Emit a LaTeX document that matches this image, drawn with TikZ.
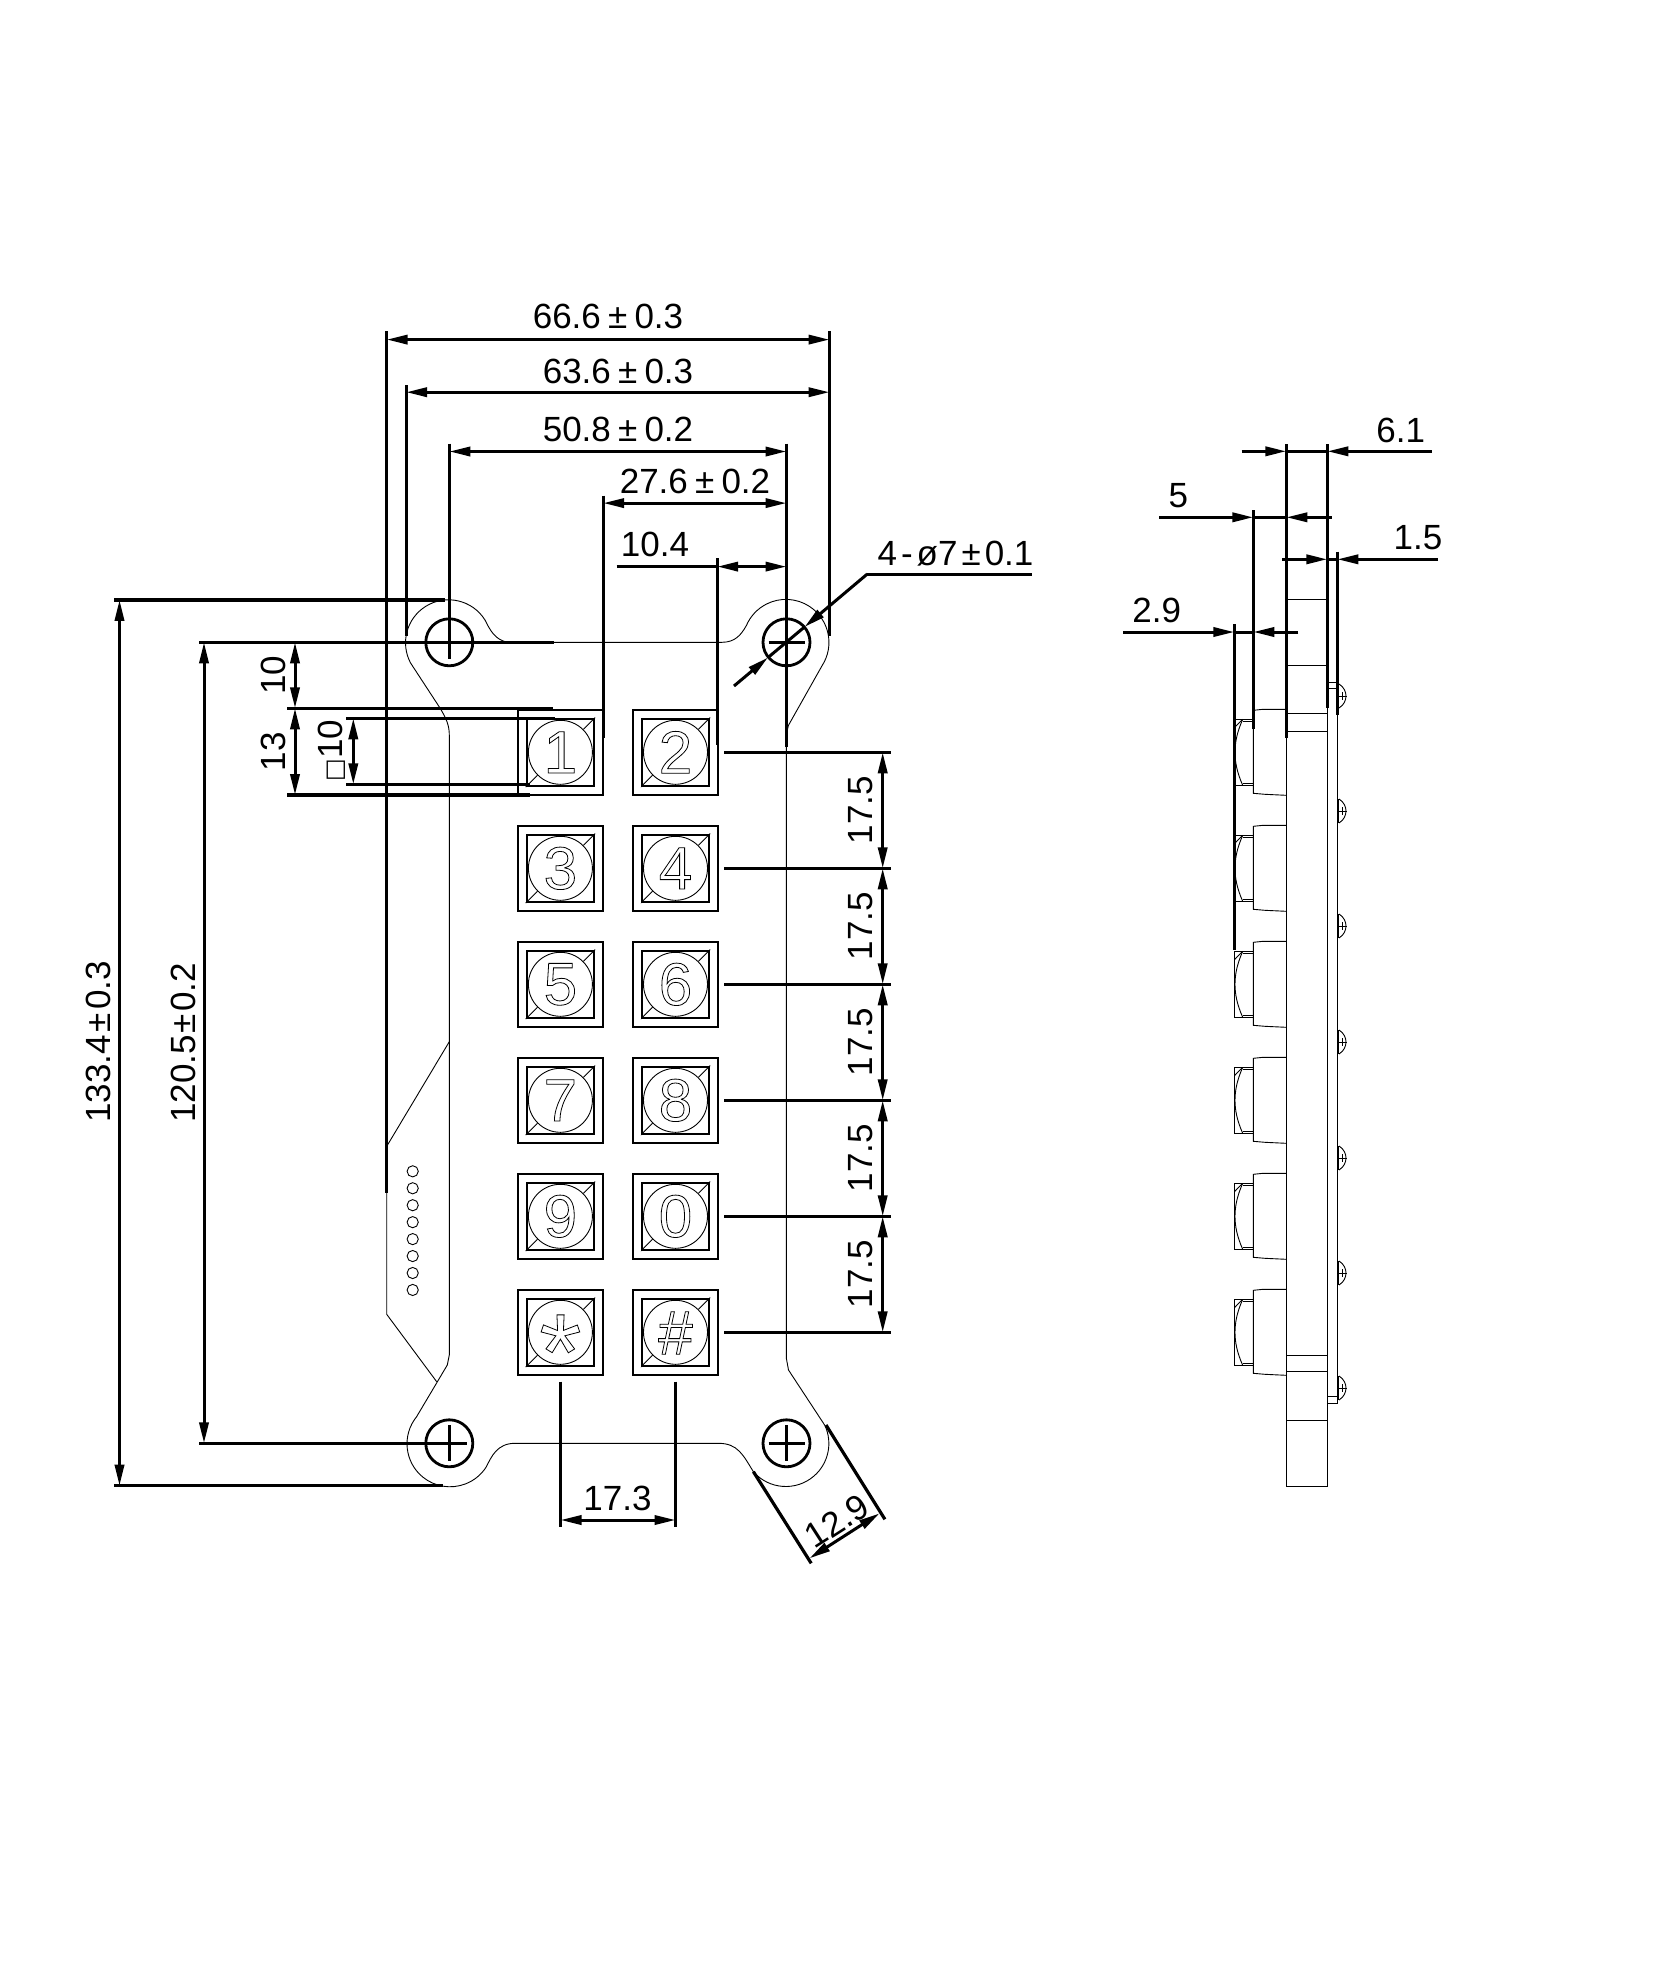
\documentclass[tikz,border=0pt]{standalone}
\usepackage{fontspec}
\setmainfont{Liberation Sans}
\newfontfamily\symfont{DejaVu Sans}
\usetikzlibrary{arrows.meta}
% hollow key legends
\newcommand{\hollowtext}[1]{\special{pdf:code 1 Tr 0.4 w}#1\special{pdf:code 0 Tr}}
\newcommand{\wideplusminus}{\hspace{3.6pt}±\hspace{3.6pt}}

\begin{document}
\begin{tikzpicture}
	[x=0.5pt,y=-0.5pt,>={Triangle[length=10.5pt,width=4.6pt]},
		thin line/.style={line width=0.45pt},
		ext line/.style={line width=1.6pt},
		dim line/.style={line width=1.5pt},
		dim text/.style={inner sep=0pt,font=\fontsize{17.5}{18}\selectfont},
		hole/.style={circle,draw,line width=1.4pt,minimum size=23.5pt,inner sep=0pt},
		key frame/.style={rectangle,draw,line width=0.95pt,minimum size=42.5pt,inner sep=0pt},
		key well/.style={rectangle,draw,line width=1.25pt,minimum size=33.5pt,inner sep=0pt},
		key cap/.style={circle,draw,line width=0.45pt,minimum size=32pt,inner sep=0pt,font=\fontsize{30}{30}\selectfont}]

	\useasboundingbox (0,0) rectangle (1653,1967);

	% board outline
	\draw[thin line] (507.8,642.3) .. controls (495,640) and (490,630) .. (485,620)
	arc[start angle=328,end angle=152,radius=43] -- (440,708)
	.. controls (446,718) and (449.3,725) .. (449.3,735) -- (449.3,1355) -- (447.3,1365) -- (416.6,1416.7)
	arc[start angle=219,end angle=33,radius=43]
	.. controls (491.5,1456.6) and (497,1443.3) .. (515,1443.3) -- (718.3,1443.3)
	.. controls (738,1443.3) and (743,1455) .. (753.4,1471.7)
	arc[start angle=139,end angle=-25,radius=43] -- (788.5,1370) -- (786.3,1358) -- (786.3,735) -- (788.4,725.4) -- (822,665.8)
	arc[start angle=33,end angle=-157,radius=43]
	.. controls (741,635) and (735,642.3) .. (721.8,642.3) -- cycle;

	% flex tail
	\draw[thin line] (386.7,1192.7) -- (386.7,1314.3) -- (436.7,1381.7);
	\draw[thin line] (449.3,1041.7) -- (387.5,1145);
	\foreach \n in {0,...,7}
		\draw[thin line] (412.7,1171.3+16.95*\n) circle[radius=5.6];

	% mounting holes
	\node[hole] (hole tl) at (449.3,642.3) {};
	\node[hole] (hole tr) at (786.5,642.3) {};
	\node[hole] (hole bl) at (449.3,1443.3) {};
	\node[hole] (hole br) at (786.5,1443.3) {};
	\draw[ext line] (hole bl.center) ++(0,-18) -- ++(0,36);
	\draw[ext line] (hole br.center) ++(0,-18) -- ++(0,36);
	\draw[ext line] (hole br.center) ++(-18,0) -- ++(36,0);
	\draw[ext line] (hole tr.center) ++(-18,0) -- ++(36,0);

	% keys
	\foreach \keyid/\keyface/\keyx/\keyy in {1/1/560.4/752.3,2/2/675.5/752.3,3/3/560.4/868.3,4/4/675.5/868.3,5/5/560.4/984.3,6/6/675.5/984.3,7/7/560.4/1100.3,8/8/675.5/1100.3,9/9/560.4/1216.3,0/0/675.5/1216.3}{
		\node[key frame] (frame\keyid) at (\keyx,\keyy) {};
		\node[key well] (well\keyid) at (\keyx,\keyy) {};
		\node[key cap] (cap\keyid) at (\keyx,\keyy) {\hollowtext{\keyface}};
		\draw[thin line] (well\keyid.north east) -- (cap\keyid.45);
		\draw[thin line] (well\keyid.south west) -- (cap\keyid.225);
	}
	\foreach \keyid/\keyface/\keyx/\keysize/\keydrop in {S/*/560.4/54/19,H/\#/675.5/31/0}{
		\node[key frame] (frame\keyid) at (\keyx,1332.3) {};
		\node[key well] (well\keyid) at (\keyx,1332.3) {};
		\node[key cap] (cap\keyid) at (\keyx,1332.3) {};
		\node[inner sep=0pt,font=\fontsize{\keysize}{\keysize}\selectfont] (mark\keyid) at (\keyx,1333+\keydrop) {\hollowtext{\keyface}};
		\draw[thin line] (well\keyid.north east) -- (cap\keyid.45);
		\draw[thin line] (well\keyid.south west) -- (cap\keyid.225);
	}
	% right column wells have a split left edge
	\foreach \keyid in {2,4,6,8,0,H}
		\draw[white,line width=0.4pt] (well\keyid.north west) -- (well\keyid.south west);

	% extension lines, plan view
	\draw[ext line] (386.7,331) -- (386.7,1192.7);
	\draw[ext line] (829.5,331) -- (829.5,636);
	\draw[ext line] (406.1,385) -- (406.1,636);
	\draw[ext line] (449.3,443.5) -- (449.3,659);
	\draw[ext line] (786.5,443.5) -- (786.5,746.5);
	\draw[ext line] (603.2,495.7) -- (603.2,737.7);
	\draw[ext line] (717.2,558) -- (717.2,745);
	\draw[ext line] (114,599.9) -- (444.7,599.9);
	\draw[ext line] (114,1485.7) -- (443,1485.7);
	\draw[ext line] (199,642.3) -- (554,642.3);
	\draw[ext line] (199,1443.3) -- (467,1443.3);
	\draw[ext line] (287,708.3) -- (553,708.3);
	\draw[ext line] (287,795) -- (530,795);
	\draw[ext line] (346,718.3) -- (555,718.3);
	\draw[ext line] (346,784.3) -- (530,784.3);
	\foreach \n in {0,...,5}
		\draw[ext line] (724.3,752.3+116*\n) -- (890.7,752.3+116*\n);
	\draw[ext line] (560.5,1381.7) -- (560.5,1526.7);
	\draw[ext line] (675.5,1381.7) -- (675.5,1526.7);
	\draw[ext line] (753.4,1471.7) -- (811.2,1563.3);
	\draw[ext line] (826,1425) -- (884.9,1519.3);

	% dimensions, plan view
	\draw[dim line,<->] (386.7,339.6) -- (829.5,339.6);
	\draw[dim line,<->] (406.1,392.2) -- (829.5,392.2);
	\draw[dim line,<->] (449.3,451.5) -- (786.5,451.5);
	\draw[dim line,<->] (603.2,503.1) -- (786.5,503.1);
	\draw[dim line] (616.6,566.6) -- (717.2,566.6);
	\draw[dim line,<->] (717.2,566.6) -- (786.5,566.6);
	\draw[dim line,<->] (119.5,599.9) -- (119.5,1485.7);
	\draw[dim line,<->] (204,642.3) -- (204,1443.3);
	\draw[dim line,<->] (295,642.3) -- (295,708.3);
	\draw[dim line,<->] (295,708.3) -- (295,795);
	\draw[dim line,<->] (353.3,718.3) -- (353.3,784.3);
	\foreach \n in {0,...,4}
		\draw[dim line,<->] (882.7,752.3+116*\n) -- (882.7,868.3+116*\n);
	\draw[dim line,<->] (560.5,1520) -- (675.5,1520);
	\draw[dim line,<->] (809.5,1558.3) -- (879.6,1513.3);

	% hole leader
	\draw[dim line] (1031.7,574) -- (867.3,574);
	\draw[dim line,->] (867.3,574) -- (804.5,627);
	\draw[dim line,->] (734,686) -- (768,657.5);
	\draw[dim line] (804.5,627) -- (768,657.5);

	\node[dim text] (d666) at (608,316.8) {66.6\wideplusminus 0.3};
	\node[dim text] (d636) at (618,371.2) {63.6\wideplusminus 0.3};
	\node[dim text] (d508) at (618,429) {50.8\wideplusminus 0.2};
	\node[dim text] (d276) at (695,481.7) {27.6\wideplusminus 0.2};
	\node[dim text] (d104) at (655,544.8) {10.4};
	\node[dim text] (dhole) at (955.5,553.3) {4\hspace{2pt}-\hspace{2pt}ø7\hspace{2pt}±\hspace{2pt}0.1};
	\node[dim text,rotate=90] (d1334) at (98,1042) {133.4\hspace{1.5pt}±\hspace{1.5pt}0.3};
	\node[dim text,rotate=90] (d1205) at (183.6,1043) {120.5\hspace{1pt}±\hspace{1pt}0.2};
	\node[dim text,rotate=90] (d10) at (273,675) {10};
	\node[dim text,rotate=90] (d13) at (273,751.7) {13};
	\node[dim text,rotate=90] (dsq) at (331.7,750.7) {{\symfont\fontsize{12}{12}\selectfont □}10};
	\foreach \n in {0,...,4}
		\node[dim text,rotate=90] (dkey\n) at (861,810.3+116*\n) {17.5};
	\node[dim text] (d173) at (617.5,1498) {17.3};
	\node[dim text,rotate=32.7] (d129) at (837,1521) {12.9};

	% side view, plate
	\draw[thin line] (1286.3,738) -- (1286.3,1486.3) -- (1327.3,1486.3) -- (1327.3,708);
	\foreach \n in {599.3,665.3,713.3,731.3,1355,1371.3,1420.3}
		\draw[thin line] (1286.3,\n) -- (1327.3,\n);
	\draw[thin line] (1327.3,682.7) -- (1337.3,682.7);
	\draw[thin line] (1327.3,688.3) -- (1337.3,688.3);
	\draw[thin line] (1337.3,715) -- (1337.3,1403.3) -- (1327.3,1403.3);
	\draw[thin line] (1327.3,1396.7) -- (1337.3,1396.7);

	% side view, buttons
	\foreach \c in {752.3,868.3,984.3,1100.3,1216.3,1332.3}{
		\draw[thin line] (1286.3,\c-43) -- (1263,\c-43) -- (1253.3,\c-42) -- (1253.3,\c+41) -- (1265,\c+42) -- (1286.3,\c+43);
		\draw[thin line] (1253.3,\c-33) -- (1234.3,\c-33) -- (1234.3,\c+33) -- (1253.3,\c+33);
		\draw[thin line] (1242.7,\c-31) -- (1253.3,\c-31);
		\draw[thin line] (1242.7,\c+31) -- (1253.3,\c+31);
		\draw[thin line] (1234.8,\c-25) -- (1242.7,\c-33);
		\draw[thin line] (1242.7,\c-33) .. controls (1237,\c-20) and (1235,\c-10) .. (1235,\c)
		.. controls (1235,\c+10) and (1237,\c+20) .. (1242.7,\c+33);
	}

	% side view, screws
	\foreach \c in {696,811,926,1042,1158,1273,1388}{
		\draw[thin line] (1338.6,\c-12) -- (1338.6,\c+12);
		\draw[thin line] (1339,\c-12) .. controls (1344,\c-9) and (1346,\c-4) .. (1346,\c)
		.. controls (1346,\c+4) and (1344,\c+9) .. (1339,\c+12);
		\draw[thin line] (1339,\c) -- (1346.5,\c);
		\draw[thin line] (1342.5,\c-4) -- (1342.5,\c+4);
	}

	% extension lines, side view
	\draw[ext line] (1234.3,624) -- (1234.3,950);
	\draw[ext line] (1253.3,510) -- (1253.3,729.3);
	\draw[ext line] (1286.3,444) -- (1286.3,738.3);
	\draw[ext line] (1327.3,444) -- (1327.3,708.3);
	\draw[ext line] (1337.3,551.7) -- (1337.3,715);

	% dimensions, side view
	\draw[dim line,->] (1241.7,451.3) -- (1286.3,451.3);
	\draw[dim line,->] (1431.7,451.3) -- (1327.3,451.3);
	\draw[dim line] (1286.3,451.3) -- (1327.3,451.3);
	\draw[dim line,->] (1159.3,517.3) -- (1253.3,517.3);
	\draw[dim line,->] (1331.7,517.3) -- (1286.3,517.3);
	\draw[dim line] (1253.3,517.3) -- (1286.3,517.3);
	\draw[dim line,->] (1282.3,559.3) -- (1327.3,559.3);
	\draw[dim line,->] (1438,559.3) -- (1337.3,559.3);
	\draw[dim line] (1327.3,559.3) -- (1337.3,559.3);
	\draw[dim line,->] (1123.3,632) -- (1234.3,632);
	\draw[dim line,->] (1298.3,632) -- (1253.3,632);
	\draw[dim line] (1234.3,632) -- (1253.3,632);

	\node[dim text] (d61) at (1400.7,430.7) {6.1};
	\node[dim text] (d5) at (1178.3,496) {5};
	\node[dim text] (d15) at (1418,537.3) {1.5};
	\node[dim text] (d29) at (1156.7,610) {2.9};

\end{tikzpicture}
\end{document}
